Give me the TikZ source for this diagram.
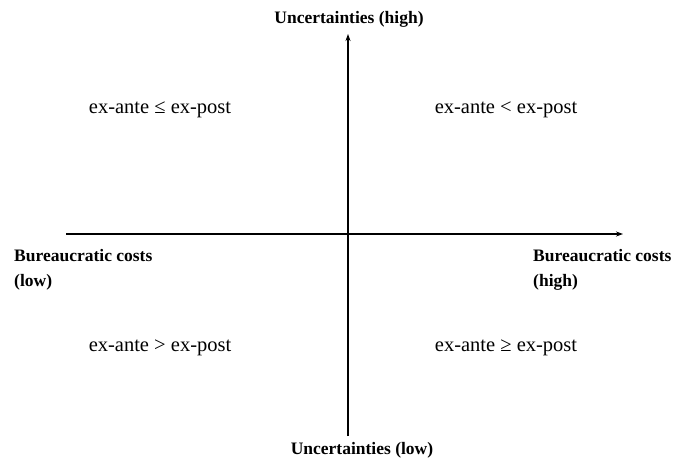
\documentclass[tikz,border=0pt]{standalone}
\usepackage{fontspec}
\setmainfont{Liberation Serif}
\usetikzlibrary{arrows.meta}
\begin{document}
\begin{tikzpicture}[x=1pt,y=-1pt,
  lbl/.style={font=\fontsize{17.5}{25}\selectfont\bfseries, inner sep=0pt},
  quad/.style={font=\fontsize{20.5}{24}\selectfont, inner sep=0pt},
  axis/.style={line width=1.1pt, -{Stealth[length=7pt,width=5pt]}}]
\useasboundingbox (0,0) rectangle (682,461);
\coordinate (xl) at (66,234);
\coordinate (xr) at (623,234);
\coordinate (yb) at (348,436);
\coordinate (yt) at (348,34);
\draw[axis] (xl) -- (xr);
\draw[axis] (yb) -- (yt);
\node[lbl] (uh) at (349,19) {Uncertainties (high)};
\node[lbl] (ul) at (362,450) {Uncertainties (low)};
\node[lbl, anchor=west, align=left] (bl) at (14,270) {Bureaucratic costs\\(low)};
\node[lbl, anchor=west, align=left] (bh) at (533,270) {Bureaucratic costs\\(high)};
\node[quad] (q1) at (160,110) {ex-ante ≤ ex-post};
\node[quad] (q2) at (506,110) {ex-ante < ex-post};
\node[quad] (q3) at (160,348) {ex-ante > ex-post};
\node[quad] (q4) at (506,348) {ex-ante ≥ ex-post};
\end{tikzpicture}
\end{document}
